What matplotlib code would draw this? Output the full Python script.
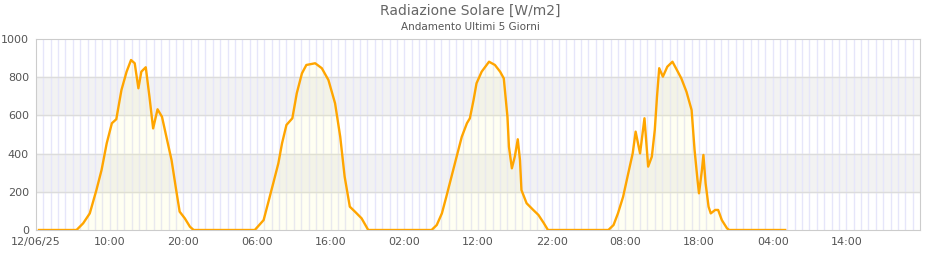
import numpy as np
import matplotlib
matplotlib.use('Agg')
import matplotlib.pyplot as plt

# hours since 12/06/25 00:00 and radiation [W/m2]
hours = [0.4, 5.5, 6.4, 7.3, 8.2, 8.9, 9.6, 10.3, 10.9, 11.2, 11.6, 12.3, 12.9, 13.4,
         13.9, 14.3, 14.9, 15.4, 15.9, 16.5, 17.1, 17.7, 18.4, 19.1, 19.5, 20.2, 20.9, 21.4,
         29.7, 30.9, 31.5, 32.2, 32.9, 33.4, 34.0, 34.8, 35.4, 36.1, 36.7, 37.9, 38.8,
         39.7, 40.6, 41.3, 41.9, 42.6, 43.3, 44.2, 45.1,
         53.7, 54.4, 55.1, 55.7, 56.4, 57.1, 57.8, 58.5, 58.9, 59.4, 59.8, 60.5, 61.5,
         62.3, 63.0, 63.5, 64.0, 64.2, 64.6, 65.0, 65.4, 65.7, 65.9, 66.6, 67.5, 68.2,
         68.9, 69.5,
         77.7, 78.4, 79.0, 79.7, 80.4, 81.0, 81.4, 82.0, 82.6, 83.1, 83.6, 84.0, 84.3,
         84.6, 85.1, 85.7, 86.4, 87.0, 87.6, 88.3, 89.0, 89.4, 89.8, 90.0, 90.4, 90.6,
         90.9, 91.3, 91.6, 92.2, 92.6, 93.1, 93.8, 94.1, 101.7]
rad = [0, 0, 35, 87, 209, 314, 454, 559, 580, 646, 733, 829, 890, 873,
       742, 829, 852, 698, 532, 632, 593, 488, 366, 192, 96, 61, 17, 0,
       0, 52, 140, 244, 349, 454, 550, 585, 716, 820, 864, 873, 847,
       785, 663, 488, 279, 122, 96, 61, 0,
       0, 26, 87, 174, 279, 384, 488, 559, 585, 681, 768, 829, 881,
       864, 829, 794, 593, 436, 323, 384, 475, 366, 209, 140, 105, 79,
       38, 0,
       0, 26, 87, 174, 297, 401, 515, 401, 585, 332, 384, 524, 698,
       847, 803, 855, 881, 838, 794, 724, 628, 419, 262, 192, 314, 393,
       244, 122, 87, 105, 105, 52, 9, 0, 0]

tick_pos = list(range(0, 120, 10))
tick_lab = ['12/06/25'] + ['%02d:00' % (h % 24) for h in tick_pos[1:]]

fig = plt.figure(figsize=(9.4, 2.6), dpi=100)
ax = fig.add_axes([0.0383, 0.1154, 0.9404, 0.7346])

ax.axhspan(200, 400, color='#f2f2f2', zorder=0)
ax.axhspan(600, 800, color='#f2f2f2', zorder=0)
for h in range(1, 120):
    ax.axvline(h, color='#e6e6fa', lw=1, zorder=1)
for v in [200, 400, 600, 800]:
    ax.axhline(v, color='#dcdcdc', lw=1, zorder=1)

ax.fill_between(hours, rad, 0, color='#ffff99', alpha=0.12, lw=0, zorder=2)
ax.plot(hours, rad, color='#ffa500', lw=1.7, zorder=3)

ax.set_xlim(0, 120)
ax.set_ylim(0, 1000)
ax.set_xticks(tick_pos)
ax.set_xticklabels(tick_lab)
ax.set_yticks(range(0, 1001, 200))
ax.tick_params(length=0, labelsize=8, labelcolor='#555555', pad=5)
for s in ax.spines.values():
    s.set_color('#cccccc')

fig.text(0.5, 0.96, 'Radiazione Solare [W/m2]', ha='center', va='center',
         fontsize=10, color='#666666')
fig.text(0.5, 0.895, 'Andamento Ultimi 5 Giorni', ha='center', va='center',
         fontsize=7.5, color='#555555')

fig.savefig('out.png', dpi=100)
